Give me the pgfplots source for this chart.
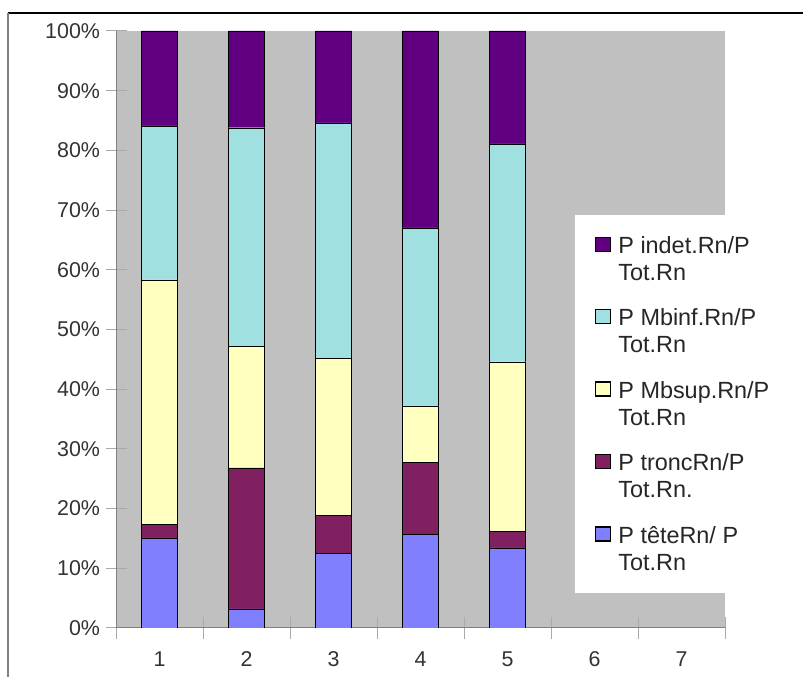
\documentclass[border=0pt]{standalone}
\usepackage{pgfplots}
\pgfplotsset{compat=1.18}
\usepackage{fontspec}
\setmainfont{Liberation Sans}
\definecolor{cTete}{RGB}{128,128,255}
\definecolor{cTronc}{RGB}{128,32,96}
\definecolor{cSup}{RGB}{255,255,192}
\definecolor{cInf}{RGB}{160,224,224}
\definecolor{cIndet}{RGB}{96,0,128}
\definecolor{bgGray}{RGB}{192,192,192}
\definecolor{axGray}{RGB}{128,128,128}
\definecolor{tkGray}{RGB}{170,170,170}
\newcommand{\twoline}[2]{\vbox{\baselineskip=27bp\hbox to 175bp{#1\hfil}\hbox to 175bp{#2\hfil}}}
\begin{document}
\begin{tikzpicture}[x=1bp,y=1bp]
\begin{axis}[
  at={(116bp,49bp)}, anchor=south west,
  scale only axis, width=609bp, height=597bp,
  xmin=0.5, xmax=7.5, ymin=0, ymax=100,
  ybar stacked, bar width=36bp,
  axis background/.style={fill=bgGray},
  axis x line*=bottom, axis y line*=left,
  axis line style={draw=axGray, line width=1bp},
  xtick={1,...,7}, minor xtick={0.5,1.5,...,7.5},
  ytick={0,10,...,100},
  tick align=center,
  major tick length=21bp, minor tick length=22bp,
  tick style={draw=tkGray, line width=1bp},
  major x tick style={draw=none},
  yticklabel={\pgfmathprintnumber{\tick}\%},
  /pgf/number format/assume math mode=true,
  ticklabel style={font=\fontsize{21.5}{25}\selectfont, text=black!80},
  yticklabel style={xshift=-2bp},
  xticklabel style={yshift=-10bp},
  every bar/.append style={draw=black, line width=1.3bp},
  reverse legend,
  legend cell align=left,
  legend image code/.code={\draw[#1,draw=black,line width=1.2bp] (0bp,29bp) rectangle (15bp,43bp);},
  legend style={at={(0.7537,0.6918)}, anchor=north west, draw=none, fill=white,
    inner xsep=20bp, inner ysep=21bp, row sep=27bp, column sep=7bp,
    font=\fontsize{23.5}{27}\selectfont, text=black!85,
    cells={anchor=base west},
    nodes={inner sep=0pt}},
]
\addplot[fill=cTete] coordinates {(1,15.1) (2,3.2) (3,12.5) (4,15.7) (5,13.4)};
\addplot[fill=cTronc] coordinates {(1,2.3) (2,23.6) (3,6.4) (4,12.1) (5,2.8)};
\addplot[fill=cSup] coordinates {(1,40.9) (2,20.4) (3,26.3) (4,9.4) (5,28.4)};
\addplot[fill=cInf] coordinates {(1,25.8) (2,36.6) (3,39.4) (4,29.8) (5,36.5)};
\addplot[fill=cIndet] coordinates {(1,15.9) (2,16.2) (3,15.4) (4,33.0) (5,18.9)};
\legend{\twoline{P têteRn/ P}{Tot.Rn}, \twoline{P troncRn/P}{Tot.Rn.}, \twoline{P Mbsup.Rn/P}{Tot.Rn}, \twoline{P Mbinf.Rn/P}{Tot.Rn}, \twoline{P indet.Rn/P}{Tot.Rn}}
\end{axis}
\draw[black, line width=1.5bp] (8,664) -- (803,664);
\draw[axGray, line width=1.5bp] (8,664) -- (8,0);
\pgfresetboundingbox
\useasboundingbox (0,0) rectangle (803,677);
\end{tikzpicture}
\end{document}
